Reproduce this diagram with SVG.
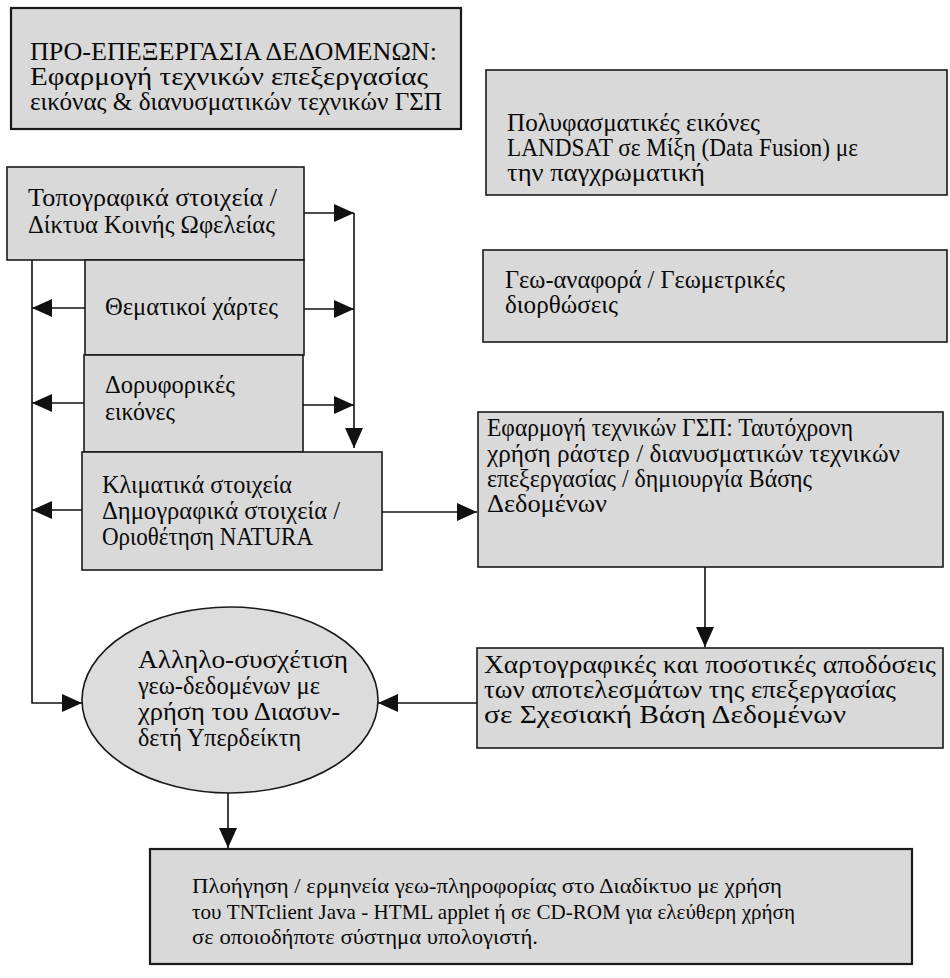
<svg xmlns="http://www.w3.org/2000/svg" width="950" height="978" viewBox="0 0 950 978">
<defs>
<marker id="ah" markerUnits="userSpaceOnUse" markerWidth="20" markerHeight="18" refX="20" refY="9" orient="auto">
<path d="M0,0 L20,9 L0,18 Z" fill="#111"/>
</marker>
<style>
.bg{fill:#fff}
.box{fill:#d9d9d9;stroke:#1a1a1a;stroke-width:1.6}
.thick{stroke-width:2.2}
.t{font-family:"Liberation Serif","DejaVu Serif",serif;font-size:25px;fill:#0a0a0a}
.tb{font-family:"Liberation Serif","DejaVu Serif",serif;font-size:22px;fill:#0a0a0a}
.c{fill:none;stroke:#111;stroke-width:1.6}
</style>
</defs>
<rect class="bg" x="0" y="0" width="950" height="978"/>

<g id="n-preprocessing">
<rect class="box thick" x="11" y="8" width="450" height="121"/>
<text class="t" x="30" y="60" textLength="407" lengthAdjust="spacingAndGlyphs">ΠΡΟ-ΕΠΕΞΕΡΓΑΣΙΑ ΔΕΔΟΜΕΝΩΝ:</text>
<text class="t" x="30" y="85" textLength="398" lengthAdjust="spacingAndGlyphs">Εφαρμογή τεχνικών επεξεργασίας</text>
<text class="t" x="30" y="110" textLength="412" lengthAdjust="spacingAndGlyphs">εικόνας &amp; διανυσματικών τεχνικών ΓΣΠ</text>
</g>

<g id="n-multispectral">
<rect class="box" x="486" y="70" width="461" height="125"/>
<text class="t" x="507" y="131" textLength="253" lengthAdjust="spacingAndGlyphs">Πολυφασματικές εικόνες</text>
<text class="t" x="507" y="156" textLength="351" lengthAdjust="spacingAndGlyphs">LANDSAT σε Μίξη (Data Fusion) με</text>
<text class="t" x="507" y="181" textLength="198" lengthAdjust="spacingAndGlyphs">την παγχρωματική</text>
</g>

<g id="n-topo">
<rect class="box" x="7" y="167" width="297" height="93"/>
<text class="t" x="28" y="206" textLength="249" lengthAdjust="spacingAndGlyphs">Τοπογραφικά στοιχεία /</text>
<text class="t" x="28" y="233" textLength="247" lengthAdjust="spacingAndGlyphs">Δίκτυα Κοινής Ωφελείας</text>
</g>

<g id="n-georef">
<rect class="box" x="483" y="250" width="464" height="92"/>
<text class="t" x="505" y="288" textLength="280" lengthAdjust="spacingAndGlyphs">Γεω-αναφορά / Γεωμετρικές</text>
<text class="t" x="505" y="313" textLength="113" lengthAdjust="spacingAndGlyphs">διορθώσεις</text>
</g>

<g id="n-thematic">
<rect class="box" x="85" y="260" width="219" height="95"/>
<text class="t" x="105" y="315" textLength="173" lengthAdjust="spacingAndGlyphs">Θεματικοί χάρτες</text>
</g>

<g id="n-satellite">
<rect class="box" x="84" y="355" width="219" height="97"/>
<text class="t" x="105" y="393" textLength="130" lengthAdjust="spacingAndGlyphs">Δορυφορικές</text>
<text class="t" x="105" y="420" textLength="70" lengthAdjust="spacingAndGlyphs">εικόνες</text>
</g>

<g id="n-climate">
<rect class="box" x="82" y="452" width="300" height="118"/>
<text class="t" x="102" y="493" textLength="190" lengthAdjust="spacingAndGlyphs">Κλιματικά στοιχεία</text>
<text class="t" x="102" y="519" textLength="238" lengthAdjust="spacingAndGlyphs">Δημογραφικά στοιχεία /</text>
<text class="t" x="102" y="545" textLength="211" lengthAdjust="spacingAndGlyphs">Οριοθέτηση NATURA</text>
</g>

<g id="n-gis">
<rect class="box" x="478" y="412" width="465" height="155"/>
<text class="t" x="487" y="436" textLength="366" lengthAdjust="spacingAndGlyphs">Εφαρμογή τεχνικών ΓΣΠ: Ταυτόχρονη</text>
<text class="t" x="487" y="462" textLength="413" lengthAdjust="spacingAndGlyphs">χρήση ράστερ / διανυσματικών τεχνικών</text>
<text class="t" x="487" y="487" textLength="325" lengthAdjust="spacingAndGlyphs">επεξεργασίας / δημιουργία Βάσης</text>
<text class="t" x="487" y="512" textLength="120" lengthAdjust="spacingAndGlyphs">Δεδομένων</text>
</g>

<g id="n-cartographic">
<rect class="box" x="477" y="648" width="466" height="100"/>
<text class="t" x="484" y="673" textLength="452" lengthAdjust="spacingAndGlyphs">Χαρτογραφικές και ποσοτικές αποδόσεις</text>
<text class="t" x="484" y="698" textLength="412" lengthAdjust="spacingAndGlyphs">των αποτελεσμάτων της επεξεργασίας</text>
<text class="t" x="484" y="723" textLength="362" lengthAdjust="spacingAndGlyphs">σε Σχεσιακή Βάση Δεδομένων</text>
</g>

<g id="n-correlation">
<ellipse cx="230" cy="700" rx="148" ry="93" fill="#dcdcdc" stroke="#1a1a1a" stroke-width="1.6"/>
<text class="t" x="138" y="668" textLength="210" lengthAdjust="spacingAndGlyphs">Αλληλο-συσχέτιση</text>
<text class="t" x="138" y="694" textLength="182" lengthAdjust="spacingAndGlyphs">γεω-δεδομένων με</text>
<text class="t" x="138" y="720" textLength="202" lengthAdjust="spacingAndGlyphs">χρήση του Διασυν-</text>
<text class="t" x="138" y="746" textLength="163" lengthAdjust="spacingAndGlyphs">δετή Υπερδείκτη</text>
</g>

<g id="n-navigation">
<rect class="box thick" x="150" y="849" width="762" height="115"/>
<text class="tb" x="192" y="893" textLength="590" lengthAdjust="spacingAndGlyphs">Πλοήγηση / ερμηνεία γεω-πληροφορίας στο Διαδίκτυο με χρήση</text>
<text class="tb" x="192" y="919" textLength="603" lengthAdjust="spacingAndGlyphs">του TNTclient Java - HTML applet ή σε CD-ROM για ελεύθερη χρήση</text>
<text class="tb" x="192" y="944" textLength="346" lengthAdjust="spacingAndGlyphs">σε οποιοδήποτε σύστημα υπολογιστή.</text>
</g>

<g id="connectors">
<path class="c" d="M304,213 H354" marker-end="url(#ah)"/>
<path class="c" d="M304,309 H354" marker-end="url(#ah)"/>
<path class="c" d="M303,405 H354" marker-end="url(#ah)"/>
<path class="c" d="M354,213 V448" marker-end="url(#ah)"/>
<path class="c" d="M85,308 H32" marker-end="url(#ah)"/>
<path class="c" d="M84,403 H32" marker-end="url(#ah)"/>
<path class="c" d="M82,510 H32" marker-end="url(#ah)"/>
<path class="c" d="M32,260 V703 H82" marker-end="url(#ah)"/>
<path class="c" d="M382,512 H477" marker-end="url(#ah)"/>
<path class="c" d="M705,567 V647" marker-end="url(#ah)"/>
<path class="c" d="M477,703 H378" marker-end="url(#ah)"/>
<path class="c" d="M228,793 V848" marker-end="url(#ah)"/>
</g>
</svg>
